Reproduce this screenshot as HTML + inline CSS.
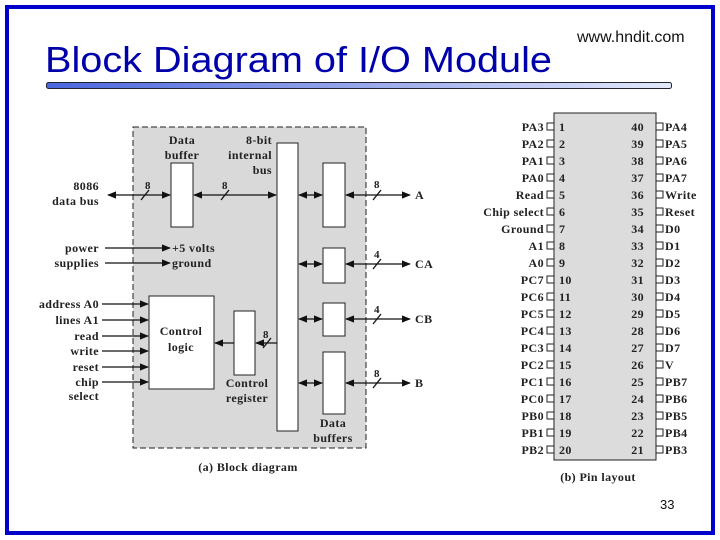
<!DOCTYPE html>
<html><head><meta charset="utf-8"><style>
html,body{margin:0;padding:0;background:#fff;}
svg{display:block}
.s{font-family:"Liberation Serif",serif;font-weight:bold;font-size:12px;letter-spacing:0.4px;fill:#222}
</style></head><body>
<svg width="720" height="540" viewBox="0 0 720 540" xmlns="http://www.w3.org/2000/svg">
<defs>
<linearGradient id="g" x1="0" x2="1"><stop offset="0" stop-color="#4a66dd"/><stop offset="1" stop-color="#e4e9fa"/></linearGradient>
<marker id="ah" viewBox="0 0 10 10" refX="9" refY="5" markerWidth="7" markerHeight="7" orient="auto-start-reverse"><path d="M0,1 L10,5 L0,9 z" fill="#111"/></marker>
</defs>
<rect x="7" y="7" width="706" height="526" fill="none" stroke="#0000cc" stroke-width="4"/>
<text x="45" y="72" font-family="Liberation Sans,sans-serif" font-size="36" fill="#0000aa" textLength="507" lengthAdjust="spacingAndGlyphs">Block Diagram of I/O Module</text>
<text x="577" y="42" font-family="Liberation Sans,sans-serif" font-size="16" fill="#111">www.hndit.com</text>
<rect x="46.5" y="82.5" width="625" height="6" rx="2" fill="url(#g)" stroke="#223" stroke-width="1"/>
<text x="660" y="509" font-family="Liberation Sans,sans-serif" font-size="13" fill="#111">33</text>

<rect x="133" y="127" width="233" height="321" fill="#d9d9d9" stroke="#222" stroke-dasharray="6,3"/>
<g fill="#fff" stroke="#222" stroke-width="1">
<rect x="171" y="163" width="22" height="64"/>
<rect x="277" y="143" width="21" height="288"/>
<rect x="323" y="163" width="22" height="64"/>
<rect x="323" y="248" width="22" height="35"/>
<rect x="323" y="303" width="22" height="33"/>
<rect x="323" y="352" width="22" height="62"/>
<rect x="149" y="296" width="65" height="93"/>
<rect x="234" y="311" width="21" height="64"/>
</g>
<g stroke="#111" stroke-width="1.3" fill="none">
<line x1="108" y1="195" x2="170" y2="195" marker-start="url(#ah)" marker-end="url(#ah)"/>
<line x1="194" y1="195" x2="276" y2="195" marker-start="url(#ah)" marker-end="url(#ah)"/>
<line x1="299" y1="195" x2="322" y2="195" marker-start="url(#ah)" marker-end="url(#ah)"/>
<line x1="346" y1="195" x2="410" y2="195" marker-start="url(#ah)" marker-end="url(#ah)"/>
<line x1="299" y1="264" x2="322" y2="264" marker-start="url(#ah)" marker-end="url(#ah)"/>
<line x1="346" y1="264" x2="410" y2="264" marker-start="url(#ah)" marker-end="url(#ah)"/>
<line x1="299" y1="319" x2="322" y2="319" marker-start="url(#ah)" marker-end="url(#ah)"/>
<line x1="346" y1="319" x2="410" y2="319" marker-start="url(#ah)" marker-end="url(#ah)"/>
<line x1="299" y1="383" x2="322" y2="383" marker-start="url(#ah)" marker-end="url(#ah)"/>
<line x1="346" y1="383" x2="410" y2="383" marker-start="url(#ah)" marker-end="url(#ah)"/>
<line x1="105" y1="248" x2="170" y2="248" marker-end="url(#ah)"/>
<line x1="105" y1="263" x2="170" y2="263" marker-end="url(#ah)"/>
<line x1="102" y1="304" x2="148" y2="304" marker-end="url(#ah)"/>
<line x1="102" y1="320" x2="148" y2="320" marker-end="url(#ah)"/>
<line x1="102" y1="336" x2="148" y2="336" marker-end="url(#ah)"/>
<line x1="102" y1="351" x2="148" y2="351" marker-end="url(#ah)"/>
<line x1="102" y1="367" x2="148" y2="367" marker-end="url(#ah)"/>
<line x1="102" y1="382" x2="148" y2="382" marker-end="url(#ah)"/>
<line x1="277" y1="343" x2="256" y2="343" marker-end="url(#ah)"/>
<line x1="234" y1="343" x2="215" y2="343" marker-end="url(#ah)"/>
<line x1="141" y1="200" x2="149" y2="190"/>
<line x1="221" y1="200" x2="229" y2="190"/>
<line x1="373" y1="200" x2="381" y2="190"/>
<line x1="373" y1="269" x2="381" y2="259"/>
<line x1="373" y1="324" x2="381" y2="314"/>
<line x1="373" y1="388" x2="381" y2="378"/>
<line x1="263" y1="348" x2="271" y2="338"/>
</g>
<g class="s">
<text x="145" y="189" font-size="11">8</text>
<text x="222" y="189" font-size="11">8</text>
<text x="374" y="188" font-size="11">8</text>
<text x="374" y="258" font-size="11">4</text>
<text x="374" y="313" font-size="11">4</text>
<text x="374" y="377" font-size="11">8</text>
<text x="263" y="338" font-size="11">8</text>
<text x="415" y="199">A</text>
<text x="415" y="268">CA</text>
<text x="415" y="323">CB</text>
<text x="415" y="387">B</text>
<text x="182" y="144" text-anchor="middle">Data</text>
<text x="182" y="159" text-anchor="middle">buffer</text>
<text x="272" y="144" text-anchor="end">8-bit</text>
<text x="272" y="159" text-anchor="end">internal</text>
<text x="272" y="174" text-anchor="end">bus</text>
<text x="99" y="190" text-anchor="end">8086</text>
<text x="99" y="205" text-anchor="end">data bus</text>
<text x="99" y="252" text-anchor="end">power</text>
<text x="99" y="267" text-anchor="end">supplies</text>
<text x="172" y="252">+5 volts</text>
<text x="172" y="267">ground</text>
<text x="99" y="308" text-anchor="end">address A0</text>
<text x="99" y="324" text-anchor="end">lines A1</text>
<text x="99" y="340" text-anchor="end">read</text>
<text x="99" y="355" text-anchor="end">write</text>
<text x="99" y="371" text-anchor="end">reset</text>
<text x="99" y="386" text-anchor="end">chip</text>
<text x="99" y="400" text-anchor="end">select</text>
<text x="181" y="335" text-anchor="middle">Control</text>
<text x="181" y="351" text-anchor="middle">logic</text>
<text x="247" y="387" text-anchor="middle">Control</text>
<text x="247" y="402" text-anchor="middle">register</text>
<text x="333" y="427" text-anchor="middle">Data</text>
<text x="333" y="442" text-anchor="middle">buffers</text>
<text x="248" y="471" text-anchor="middle">(a) Block diagram</text>
</g>

<rect x="554" y="113" width="102" height="347" fill="#dcdcdc" stroke="#222"/>
<g id="pins" class="s"></g>
<text class="s" x="598" y="481" text-anchor="middle">(b) Pin layout</text>
</svg>
<script>
var L=["PA3","PA2","PA1","PA0","Read","Chip select","Ground","A1","A0","PC7","PC6","PC5","PC4","PC3","PC2","PC1","PC0","PB0","PB1","PB2"];
var R=["PA4","PA5","PA6","PA7","Write","Reset","D0","D1","D2","D3","D4","D5","D6","D7","V","PB7","PB6","PB5","PB4","PB3"];
var g=document.getElementById("pins"),s="";
for(var i=0;i<20;i++){var y=127+i*17;
s+='<rect x="547" y="'+(y-4)+'" width="7" height="7" fill="#fff" stroke="#222"/>';
s+='<rect x="656" y="'+(y-4)+'" width="7" height="7" fill="#fff" stroke="#222"/>';
s+='<text x="544" y="'+(y+4)+'" text-anchor="end">'+L[i]+'</text>';
s+='<text x="559" y="'+(y+4)+'">'+(i+1)+'</text>';
s+='<text x="644" y="'+(y+4)+'" text-anchor="end">'+(40-i)+'</text>';
s+='<text x="665" y="'+(y+4)+'">'+R[i]+'</text>';}
g.innerHTML=s;
</script>
</body></html>
